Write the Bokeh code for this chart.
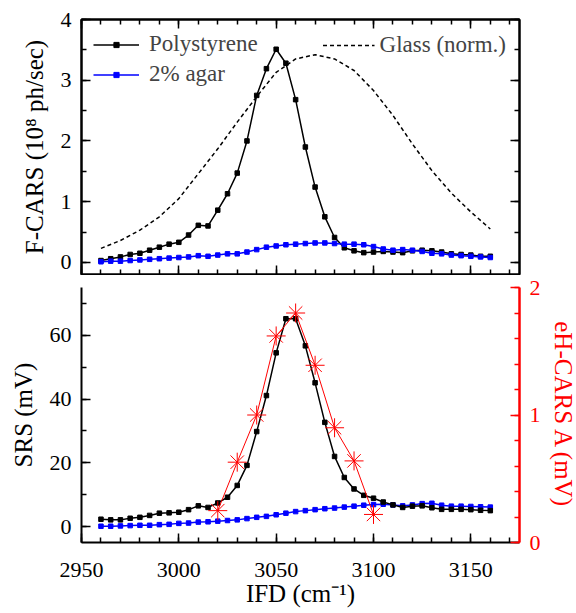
from bokeh.plotting import figure
from bokeh.layouts import column
from bokeh.models import LinearAxis, Range1d, Legend, LegendItem, FixedTicker, CustomJSTickFormatter
from bokeh.embed import file_html
from bokeh.resources import INLINE

# ---------------- data ----------------
ifd = [2960, 2965, 2970, 2975, 2980, 2985, 2990, 2995, 3000, 3005,
       3010, 3015, 3020, 3025, 3030, 3035, 3040, 3045, 3050, 3055,
       3060, 3065, 3070, 3075, 3080, 3085, 3090, 3095, 3100, 3105,
       3110, 3115, 3120, 3125, 3130, 3135, 3140, 3145, 3150, 3155, 3160]

fcars_polystyrene = [0.03, 0.06, 0.09, 0.13, 0.15, 0.20, 0.25, 0.30, 0.33, 0.45,
                     0.61, 0.60, 0.86, 1.13, 1.47, 2.00, 2.75, 3.19, 3.51, 3.28,
                     2.68, 1.90, 1.24, 0.75, 0.41, 0.24, 0.19, 0.16, 0.17, 0.18,
                     0.17, 0.16, 0.19, 0.20, 0.19, 0.17, 0.14, 0.13, 0.12, 0.10, 0.10]

fcars_agar = [0.01, 0.02, 0.02, 0.03, 0.04, 0.05, 0.06, 0.07, 0.08, 0.09,
              0.11, 0.10, 0.12, 0.14, 0.14, 0.17, 0.21, 0.25, 0.27, 0.29,
              0.30, 0.31, 0.32, 0.32, 0.31, 0.30, 0.30, 0.29, 0.26, 0.22,
              0.20, 0.21, 0.20, 0.18, 0.15, 0.14, 0.12, 0.11, 0.10, 0.09, 0.08]

glass_x = [2960, 2970, 2980, 2990, 3000, 3010, 3020, 3030, 3040, 3050, 3060,
           3070, 3080, 3090, 3100, 3110, 3120, 3130, 3140, 3150, 3160]
glass_norm = [0.23, 0.36, 0.53, 0.75, 1.05, 1.46, 1.87, 2.31, 2.73, 3.13, 3.35,
              3.42, 3.35, 3.16, 2.83, 2.42, 1.95, 1.51, 1.14, 0.83, 0.55]

srs_polystyrene = [2.3, 2.1, 2.1, 2.6, 2.9, 3.5, 4.2, 4.3, 4.5, 5.3,
                   6.5, 6.0, 7.4, 9.2, 12.9, 19.2, 29.8, 41.1, 54.5, 65.2,
                   65.2, 56.7, 45.1, 32.7, 22.0, 15.4, 11.8, 9.8, 8.9, 7.7,
                   6.8, 6.0, 6.4, 6.5, 5.9, 5.4, 5.4, 5.4, 5.3, 5.1, 5.0]

srs_agar = [0.1, 0.1, 0.2, 0.3, 0.4, 0.4, 0.6, 0.7, 1.0, 1.1,
            1.4, 1.5, 1.7, 1.9, 2.1, 2.5, 2.9, 3.2, 3.7, 4.2,
            4.7, 5.0, 5.3, 5.6, 5.8, 6.1, 6.4, 6.7, 6.9, 7.0,
            6.8, 6.5, 6.8, 7.2, 7.3, 6.7, 6.4, 6.4, 6.3, 6.2, 6.1]

ehcars_x = [3020, 3030, 3040, 3050, 3060, 3070, 3080, 3090, 3100]
ehcars_a = [0.25, 0.63, 1.00, 1.62, 1.80, 1.39, 0.90, 0.64, 0.22]

x_major = [2950, 3000, 3050, 3100, 3150]
x_minor = [2950, 2960, 2970, 2980, 2990, 3000, 3010, 3020, 3030, 3040, 3050,
           3060, 3070, 3080, 3090, 3100, 3110, 3120, 3130, 3140, 3150, 3160, 3170]
fcars_major = [0, 1, 2, 3, 4]
fcars_minor = [0, 0.5, 1, 1.5, 2, 2.5, 3, 3.5, 4]
srs_major = [0, 20, 40, 60]
srs_minor = [0, 10, 20, 30, 40, 50, 60, 70]
eh_major = [0, 1, 2]
eh_minor = [0, 0.2, 0.4, 0.6, 0.8, 1.0, 1.2, 1.4, 1.6, 1.8, 2.0]

FONT = "Liberation Serif"
BLUE = "#0000FF"
RED = "#FF0000"


def style_axis(ax, color="black", labels=True):
    ax.axis_line_color = color
    ax.axis_line_width = 2
    ax.major_tick_line_color = color
    ax.minor_tick_line_color = color
    ax.major_tick_line_width = 1.5
    ax.minor_tick_line_width = 1.5
    ax.major_tick_in = 9
    ax.major_tick_out = 0
    ax.minor_tick_in = 5
    ax.minor_tick_out = 0
    ax.major_label_text_font = FONT
    ax.axis_label_text_font = FONT
    ax.axis_label_text_font_size = "25px"
    ax.axis_label_text_font_style = "normal"
    ax.axis_label_text_color = color
    if labels:
        ax.major_label_text_font_size = "22px"
        ax.major_label_text_color = color
    else:
        ax.formatter = CustomJSTickFormatter(code="return ''")
        ax.major_label_text_font_size = "1px"
        ax.major_label_standoff = 0


# ---------------- top panel ----------------
p1 = figure(frame_width=438, frame_height=255, x_range=Range1d(2950, 3175), y_range=Range1d(-0.2, 4),
            output_backend="svg", toolbar_location=None,
            min_border_left=81, min_border_right=57, min_border_top=19, min_border_bottom=1)
p1.grid.visible = False
p1.outline_line_color = "black"
p1.outline_line_width = 2

p1.xaxis.ticker = FixedTicker(ticks=x_major, minor_ticks=x_minor)
style_axis(p1.xaxis[0], labels=False)
p1.yaxis.ticker = FixedTicker(ticks=fcars_major, minor_ticks=fcars_minor)
style_axis(p1.yaxis[0])
p1.yaxis.axis_label = "F-CARS (10\u2078 ph/sec)"
p1.yaxis.major_label_standoff = 10
p1.yaxis.axis_label_standoff = 10

ax_top = LinearAxis(ticker=FixedTicker(ticks=x_major, minor_ticks=x_minor))
style_axis(ax_top, labels=False)
p1.add_layout(ax_top, "above")
ax_right = LinearAxis(ticker=FixedTicker(ticks=fcars_major, minor_ticks=fcars_minor))
style_axis(ax_right, labels=False)
p1.add_layout(ax_right, "right")

g_glass = p1.line(glass_x, glass_norm, line_color="black", line_dash="4 3", line_width=1.5)
l_ps = p1.line(ifd, fcars_polystyrene, line_color="black", line_width=1.5)
s_ps = p1.scatter(ifd, fcars_polystyrene, marker="square", size=4.5, color="black")
l_ag = p1.line(ifd, fcars_agar, line_color=BLUE, line_width=1.5)
s_ag = p1.scatter(ifd, fcars_agar, marker="square", size=4.5, color=BLUE)

leg1 = Legend(items=[LegendItem(label="Polystyrene", renderers=[l_ps, s_ps]),
                     LegendItem(label="2% agar", renderers=[l_ag, s_ag])],
              location="top_left", margin=12, padding=9, spacing=4,
              glyph_width=46, glyph_height=13, label_standoff=10, label_height=26,
              label_text_font=FONT, label_text_font_size="23px",
              background_fill_alpha=0, border_line_color=None)
leg2 = Legend(items=[LegendItem(label="Glass (norm.)", renderers=[g_glass])],
              location="top_right", margin=13, padding=8,
              glyph_width=52, glyph_height=22, label_standoff=5,
              label_text_font=FONT, label_text_font_size="23px",
              background_fill_alpha=0, border_line_color=None)
p1.add_layout(leg1)
p1.add_layout(leg2)

# ---------------- bottom panel ----------------
p2 = figure(frame_width=438, frame_height=255, x_range=p1.x_range, y_range=Range1d(-5, 75),
            output_backend="svg", toolbar_location=None,
            min_border_left=81, min_border_right=57, min_border_top=12, min_border_bottom=70)
p2.grid.visible = False
p2.outline_line_color = None
p2.extra_y_ranges = {"eh": Range1d(0, 2)}

p2.xaxis.ticker = FixedTicker(ticks=x_major, minor_ticks=x_minor)
style_axis(p2.xaxis[0])
p2.xaxis.axis_label = "IFD (cm\u207b\u00b9)"
p2.xaxis.major_label_standoff = 20
p2.xaxis.axis_label_standoff = 0

p2.yaxis.ticker = FixedTicker(ticks=srs_major, minor_ticks=srs_minor)
style_axis(p2.yaxis[0])
p2.yaxis.axis_label = "SRS (mV)"
p2.yaxis.major_label_standoff = 10
p2.yaxis.axis_label_standoff = 10

ax_eh = LinearAxis(y_range_name="eh", ticker=FixedTicker(ticks=eh_major, minor_ticks=eh_minor),
                   axis_label="eH-CARS A (mV)")
style_axis(ax_eh, color=RED)
ax_eh.axis_line_width = 2.5
ax_eh.major_label_standoff = 10
ax_eh.axis_label_standoff = 6
p2.add_layout(ax_eh, "right")

p2.line(ifd, srs_agar, line_color=BLUE, line_width=1.5)
p2.scatter(ifd, srs_agar, marker="square", size=4.5, color=BLUE)
p2.line(ifd, srs_polystyrene, line_color="black", line_width=1.5)
p2.scatter(ifd, srs_polystyrene, marker="square", size=4.5, color="black")
p2.line(ehcars_x, ehcars_a, y_range_name="eh", line_color=RED, line_width=1)
p2.scatter(ehcars_x, ehcars_a, y_range_name="eh", marker="asterisk", size=19,
           line_color=RED, line_width=1)

layout = column(p1, p2, spacing=0)
open("out.html", "w").write(file_html(layout, INLINE))
